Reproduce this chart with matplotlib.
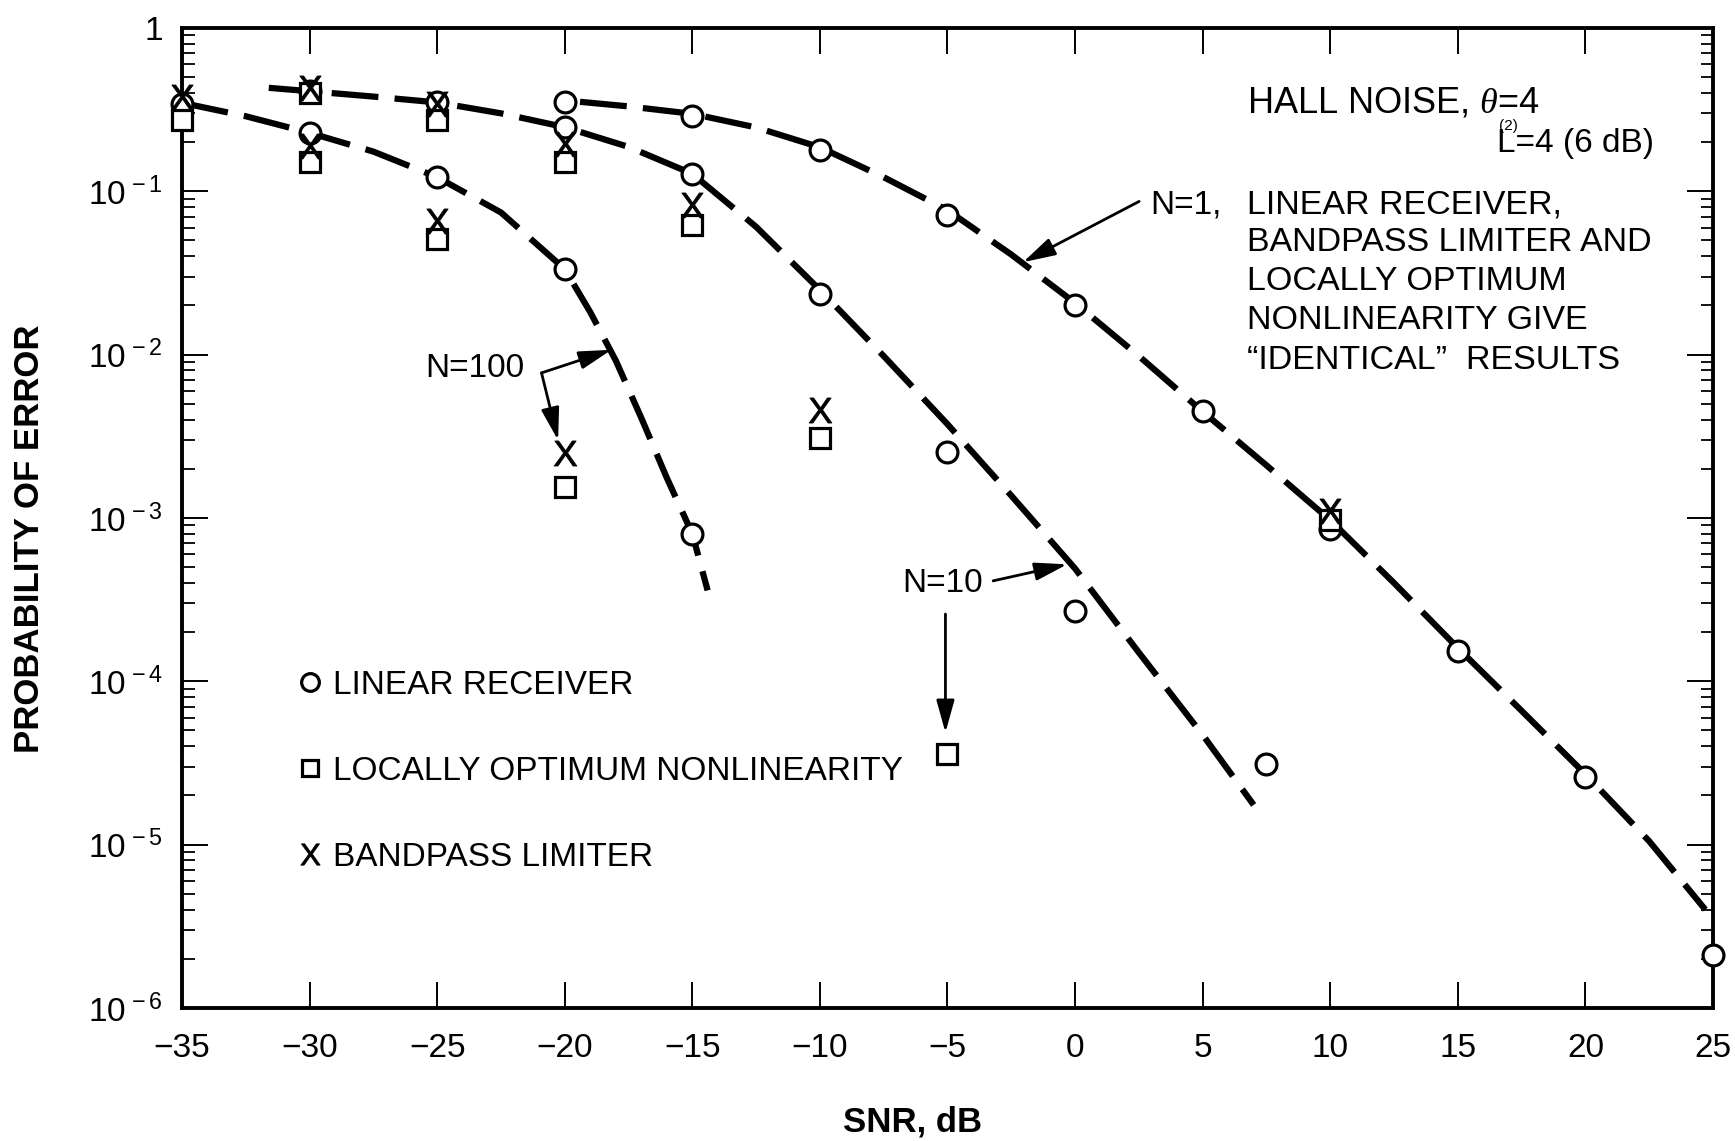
import numpy as np
import matplotlib.pyplot as plt
from matplotlib.ticker import LogLocator, FuncFormatter, NullFormatter

plt.rcParams['font.family'] = 'Liberation Sans'
plt.rcParams['mathtext.fontset'] = 'custom'
plt.rcParams['mathtext.rm'] = 'Liberation Sans'
plt.rcParams['mathtext.it'] = 'Liberation Serif:italic'

# theoretical curves (dashed), SNR in dB vs probability of error
n1_curve_snr = [-19.4, -17.5, -15, -12.5, -10, -7.5, -5, -2.5, 0, 2.5, 5, 7.5,
                10, 12.5, 15, 17.5, 20, 22.5, 24.7]
n1_curve_pe = [0.353, 0.331, 0.298, 0.246, 0.186, 0.122, 0.0766, 0.041, 0.0207,
               9.8e-3, 4.48e-3, 2.1e-3, 9.7e-4, 4.0e-4, 1.6e-4, 6.6e-5, 2.7e-5,
               1.05e-5, 4.0e-6]

n10_curve_snr = [-31.6, -30, -27.5, -25, -22.5, -20, -17.5, -15, -12.5, -10, -7.5,
                 -5, -2.5, 0, 2.5, 5, 7.0]
n10_curve_pe = [0.43, 0.41, 0.38, 0.35, 0.30, 0.247, 0.187, 0.128, 0.0606, 0.0249,
                9.8e-3, 3.75e-3, 1.37e-3, 4.9e-4, 1.5e-4, 4.7e-5, 1.75e-5]

n100_curve_snr = [-35, -32.5, -30, -27.5, -25, -22.5, -20, -19, -18, -17, -16, -15, -14.4]
n100_curve_pe = [0.348, 0.288, 0.228, 0.175, 0.122, 0.0742, 0.0334, 0.0182, 9.2e-3,
                 4.1e-3, 1.76e-3, 8.0e-4, 3.6e-4]

# simulated points: linear receiver
lin_n1_snr = [-20, -15, -10, -5, 0, 5, 10, 15, 20, 25]
lin_n1_pe = [0.35, 0.29, 0.178, 0.072, 0.020, 4.5e-3, 8.6e-4, 1.54e-4, 2.6e-5, 2.1e-6]
lin_n10_snr = [-30, -25, -20, -15, -10, -5, 0, 7.5]
lin_n10_pe = [0.41, 0.35, 0.247, 0.128, 0.0235, 2.54e-3, 2.7e-4, 3.1e-5]
lin_n100_snr = [-35, -30, -25, -20, -15]
lin_n100_pe = [0.34, 0.228, 0.122, 0.0335, 8.0e-4]

# locally optimum nonlinearity
lo_n1_snr = [10]
lo_n1_pe = [9.7e-4]
lo_n10_snr = [-30, -25, -20, -15, -10, -5]
lo_n10_pe = [0.40, 0.275, 0.152, 0.062, 3.1e-3, 3.6e-5]
lo_n100_snr = [-35, -30, -25, -20]
lo_n100_pe = [0.275, 0.152, 0.051, 1.55e-3]

# bandpass limiter
bpl_n1_snr = [10]
bpl_n1_pe = [1.1e-3]
bpl_n10_snr = [-30, -25, -20, -15, -10]
bpl_n10_pe = [0.43, 0.34, 0.196, 0.082, 4.6e-3]
bpl_n100_snr = [-35, -30, -25, -20]
bpl_n100_pe = [0.38, 0.19, 0.066, 2.5e-3]

note_lines = ['LINEAR RECEIVER,', 'BANDPASS LIMITER AND', 'LOCALLY OPTIMUM',
              'NONLINEARITY GIVE', '\u201cIDENTICAL\u201d  RESULTS']
note_pe = [0.0828, 0.0487, 0.0282, 0.0161, 0.00918]

fig = plt.figure(figsize=(17.35, 11.41), dpi=100)
ax = fig.add_axes([0.1049, 0.1166, 0.8824, 0.8589])
ax.set_yscale('log')
ax.set_xlim(-35, 25)
ax.set_ylim(1e-6, 1)

dash = dict(color='k', lw=4.5, dashes=(7.5, 2.6), solid_capstyle='butt')
ax.plot(n1_curve_snr, n1_curve_pe, **dash)
ax.plot(n10_curve_snr, n10_curve_pe, **dash)
ax.plot(n100_curve_snr, n100_curve_pe, **dash)

mk = dict(linestyle='none', color='k', clip_on=False, zorder=3)
circ, = ax.plot(lin_n1_snr + lin_n10_snr + lin_n100_snr,
                lin_n1_pe + lin_n10_pe + lin_n100_pe,
                marker='o', ms=15, mew=2.3, mfc='white', **mk)
sq, = ax.plot(lo_n1_snr + lo_n10_snr + lo_n100_snr,
              lo_n1_pe + lo_n10_pe + lo_n100_pe,
              marker='s', ms=14, mew=2.3, mfc='white', **mk)
xx, = ax.plot(bpl_n1_snr + bpl_n10_snr + bpl_n100_snr,
              bpl_n1_pe + bpl_n10_pe + bpl_n100_pe,
              marker=r'$\mathregular{X}$', ms=18, mew=0.6, **mk)

ax.legend([circ, sq, xx],
          ['LINEAR RECEIVER', 'LOCALLY OPTIMUM NONLINEARITY', 'BANDPASS LIMITER'],
          loc='upper left', bbox_to_anchor=(0.075, 0.345), frameon=False,
          fontsize=24, handlelength=0.8, handletextpad=0.3, labelspacing=1.65,
          borderpad=0, borderaxespad=0, markerscale=0.85)

# annotations
ax.text(6.72, 0.348, r'HALL NOISE, $\theta$=4', fontsize=26, ha='left', va='center')
ax.text(22.68, 0.195, 'L=4 (6 dB)', fontsize=24, ha='right', va='center')
ax.text(17.0, 0.25, '(2)', fontsize=11, ha='center', va='center')

ax.text(2.94, note_pe[0], 'N=1,', fontsize=24, ha='left', va='center')
for line, pe in zip(note_lines, note_pe):
    ax.text(6.72, pe, line, fontsize=24.5, ha='left', va='center')

arrow = dict(arrowstyle='-|>,head_length=0.9,head_width=0.25', color='k', lw=2,
             mutation_scale=22, shrinkA=0, shrinkB=0)
ax.annotate('', xy=(-2.04, 0.0368), xytext=(2.51, 0.0867), arrowprops=arrow)

ax.text(-23.51, 8.23e-3, 'N=100', fontsize=24, ha='center', va='center')
ax.annotate('', xy=(-18.17, 0.0107), xytext=(-20.91, 7.73e-3), arrowprops=arrow)
ax.annotate('', xy=(-20.26, 2.99e-3), xytext=(-20.91, 7.73e-3), arrowprops=arrow)

ax.text(-5.21, 3.99e-4, 'N=10', fontsize=24, ha='center', va='center')
ax.annotate('', xy=(-0.31, 5.2e-4), xytext=(-3.21, 4.12e-4), arrowprops=arrow)
ax.annotate('', xy=(-5.08, 4.85e-5), xytext=(-5.08, 2.58e-4), arrowprops=arrow)

# axes styling
ax.set_xticks(np.arange(-35, 26, 5))
ax.yaxis.set_major_locator(LogLocator(base=10, numticks=10))
ax.yaxis.set_minor_locator(LogLocator(base=10, subs=np.arange(2, 10), numticks=10))
ax.yaxis.set_minor_formatter(NullFormatter())
ax.yaxis.set_major_formatter(FuncFormatter(
    lambda v, _: '1' if round(np.log10(v)) == 0
    else r'$\mathregular{10^{\,%d}}$' % round(np.log10(v))))

ax.tick_params(which='both', direction='in', top=True, right=True)
ax.tick_params(which='major', length=19, width=1.4, labelsize=24)
ax.tick_params(axis='x', which='major', pad=18)
ax.tick_params(axis='y', which='major', pad=14)
ax.tick_params(which='minor', length=9, width=1.3)
for sp in ax.spines.values():
    sp.set_linewidth(2.8)

ax.set_xlabel('SNR, dB', fontsize=25, fontweight='bold')
ax.set_ylabel('PROBABILITY OF ERROR', fontsize=25, fontweight='bold')
ax.xaxis.set_label_coords(0.4775, -0.10)
ax.yaxis.set_label_coords(-0.089, 0.479)

fig.savefig('out.png', dpi=100)
